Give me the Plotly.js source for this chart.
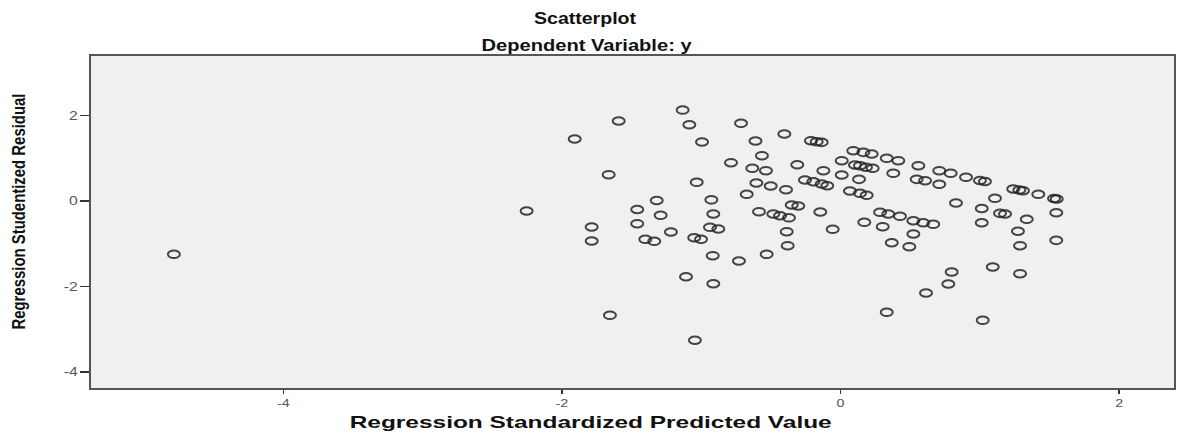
<!DOCTYPE html>
<html>
<head>
<meta charset="utf-8">
<script src="https://cdn.plot.ly/plotly-3.0.1.min.js"></script>
<style>
  html, body { margin: 0; padding: 0; background: #ffffff; }
  #chart { width: 1180px; height: 435px; }
</style>
</head>
<body>
<div id="chart"></div>
<script>
// Regression Standardized Predicted Value
const xPred = [
  -4.785, -2.253, -1.908, -1.592, -1.133, -1.085, -0.714, -0.994, -0.610, -0.564,
  -0.786, -0.633, -1.664, -1.032, -0.604, -0.673, -1.319, -0.927, -1.459, -1.291,
  -0.913, -0.585, -1.786, -1.459, -0.937, -0.877, -1.217, -1.786, -1.401, -1.337,
  -1.050, -1.001, -0.917, -0.729, -1.109, -0.913, -1.655, -0.403, -0.212, -0.171,
  -0.135, -0.310, -0.535, -0.123, 0.092, 0.164, 0.224, 0.009, 0.104, 0.140,
  0.183, 0.231, 0.332, 0.415, 0.559, 0.709, 0.791, 0.379, -0.501, -0.391,
  -0.255, -0.195, -0.135, -0.095, 0.009, 0.133, 0.547, 0.607, 0.709, 0.829,
  0.068, 0.140, 0.188, -0.350, -0.303, -0.482, -0.434, -0.370, -0.145, 0.284,
  0.343, 0.427, 0.523, 0.594, 0.666, 0.171, 0.303, 0.523, -0.386, -0.056,
  0.368, 0.494, -0.379, -0.530, 0.798, 0.774, 0.614, 0.332, 0.901, 1.001,
  1.037, 1.240, 1.284, 1.310, 1.420, 1.552, 1.533, 1.109, 1.014, 1.145,
  1.181, 1.337, 1.549, 1.014, 1.274, 1.549, 1.289, 1.093, 1.289, 1.021,
  -1.045
];
// Regression Studentized Residual
const yResid = [
  -1.245, -0.232, 1.454, 1.875, 2.132, 1.788, 1.821, 1.383, 1.407, 1.063,
  0.899, 0.768, 0.618, 0.440, 0.424, 0.159, 0.014, 0.030, -0.197, -0.332,
  -0.302, -0.248, -0.606, -0.529, -0.613, -0.653, -0.723, -0.934, -0.894, -0.941,
  -0.857, -0.894, -1.278, -1.402, -1.770, -1.934, -2.673, 1.571, 1.414, 1.390,
  1.376, 0.852, 0.712, 0.712, 1.180, 1.142, 1.103, 0.946, 0.845, 0.829,
  0.791, 0.768, 1.002, 0.946, 0.829, 0.712, 0.651, 0.651, 0.353, 0.267,
  0.494, 0.454, 0.400, 0.360, 0.611, 0.510, 0.510, 0.478, 0.393, -0.044,
  0.236, 0.183, 0.136, -0.091, -0.115, -0.302, -0.342, -0.391, -0.255, -0.262,
  -0.302, -0.356, -0.459, -0.506, -0.543, -0.496, -0.599, -0.770, -0.716, -0.660,
  -0.974, -1.067, -1.044, -1.245, -1.660, -1.941, -2.151, -2.603, 0.557, 0.482,
  0.459, 0.283, 0.260, 0.243, 0.159, 0.049, 0.061, 0.066, -0.173, -0.286,
  -0.302, -0.426, -0.272, -0.506, -0.705, -0.918, -1.044, -1.543, -1.699, -2.790,
  -3.258
];
const xTickVals = [-4, -2, 0, 2];
const yTickVals = [-4, -2, 0, 2];
const chartTitle = 'Scatterplot';
const chartSubtitle = 'Dependent Variable: y';
const xTitle = 'Regression Standardized Predicted Value';
const yTitle = 'Regression Studentized Residual';

const FONT = 'Liberation Sans, Arial, sans-serif';

const trace = {
  x: xPred,
  y: yResid,
  type: 'scatter',
  mode: 'markers',
  marker: {
    symbol: 'circle-open',
    size: 10,
    color: '#262626',
    opacity: 0.85,
    line: { width: 2, color: '#262626' }
  },
  hoverinfo: 'x+y',
  showlegend: false
};

const layout = {
  width: 1180,
  height: 435,
  paper_bgcolor: '#ffffff',
  plot_bgcolor: '#f0f0f0',
  margin: { l: 91, r: 6, t: 56, b: 47, pad: 0 },
  title: {
    text: chartTitle,
    font: { family: FONT, size: 16, weight: 700, color: '#111' },
    xref: 'container', x: 585 / 1180, xanchor: 'center',
    yref: 'container', y: 1 - 18 / 435, yanchor: 'middle'
  },
  annotations: [{
    // subtitle
    text: chartSubtitle,
    xref: 'paper', yref: 'paper',
    x: (586 - 91) / 1083, y: (388 - 45) / 332,
    xanchor: 'center', yanchor: 'middle',
    showarrow: false,
    font: { family: FONT, size: 16, weight: 700, color: '#111' }
  }, {
    // y axis title
    text: yTitle,
    xref: 'paper', yref: 'paper',
    x: (18 - 91) / 1083, y: (388 - 212) / 332,
    xanchor: 'center', yanchor: 'middle',
    textangle: -90,
    showarrow: false,
    font: { family: FONT, size: 19, weight: 700, color: '#111' }
  }, {
    // x axis title
    text: xTitle,
    xref: 'paper', yref: 'paper',
    x: (590 - 91) / 1083, y: (388 - 422) / 332,
    xanchor: 'center', yanchor: 'middle',
    showarrow: false,
    font: { family: FONT, size: 17, weight: 700, color: '#111' }
  }],
  xaxis: {
    range: [-5.380, 2.394],
    tickmode: 'array',
    tickvals: xTickVals,
    ticktext: xTickVals.map(String),
    ticks: 'outside', ticklen: 4, tickwidth: 1.5, tickcolor: '#333',
    showgrid: false, zeroline: false,
    showline: true, linecolor: '#555', linewidth: 2, mirror: true,
    tickfont: { family: FONT, size: 11, color: '#555' }
  },
  yaxis: {
    range: [-4.375, 3.397],
    tickmode: 'array',
    tickvals: yTickVals,
    ticktext: yTickVals.map(String),
    ticks: 'outside', ticklen: 9, tickwidth: 1.5, tickcolor: '#333',
    showgrid: false, zeroline: false,
    showline: true, linecolor: '#555', linewidth: 2, mirror: true,
    tickfont: { family: FONT, size: 12, color: '#555' }
  }
};

// The reference picture is stretched horizontally; widen text and markers to match.
function stretchTo(el, target) {
  el.setAttribute('textLength', target);
  el.setAttribute('lengthAdjust', 'spacingAndGlyphs');
}
function stretchBy(el, k) {
  const L = el.getComputedTextLength();
  if (L > 0) stretchTo(el, L * k);
}

Plotly.newPlot('chart', [trace], layout, { displayModeBar: false, staticPlot: true }).then(gd => {
  const t = gd.querySelector('.gtitle');
  if (t) stretchTo(t, 102);
  const ann = gd.querySelectorAll('.annotation-text');
  if (ann[0]) stretchTo(ann[0], 210);
  if (ann[1]) stretchTo(ann[1], 236);
  if (ann[2]) stretchTo(ann[2], 482);
  gd.querySelectorAll('.xtick text, .ytick text').forEach(el => stretchBy(el, 1.3));
  gd.querySelectorAll('.scatterlayer path.point').forEach(p => {
    p.setAttribute('d', 'M6,0A6,3.8 0 1,1 0,-3.8A6,3.8 0 0,1 6,0Z');
  });
});
</script>
</body>
</html>
